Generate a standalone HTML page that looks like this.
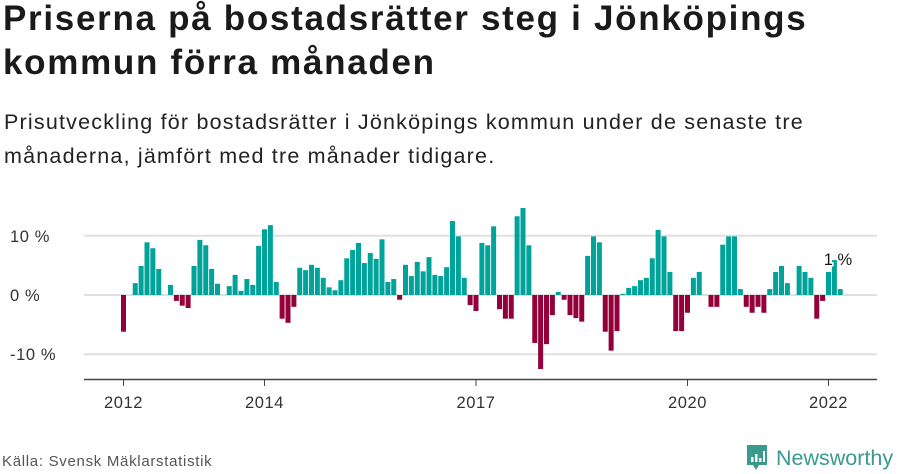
<!DOCTYPE html>
<html><head><meta charset="utf-8"><style>
body{margin:0;width:900px;height:474px;background:#fff;font-family:"Liberation Sans",sans-serif;color:#1a1a1a;overflow:hidden;position:relative}
h1{position:absolute;left:3px;top:-3px;margin:0;font-size:35px;line-height:44px;font-weight:bold;letter-spacing:1.7px;white-space:nowrap}
.sub{position:absolute;left:4px;top:105px;margin:0;font-size:21.5px;line-height:34px;color:#222;letter-spacing:1.2px;white-space:nowrap}
.src{position:absolute;left:2px;top:453px;font-size:15px;color:#555;letter-spacing:0.7px}
.logo{position:absolute;left:745px;top:443px;display:flex;align-items:center}
.logo span{font-size:21.5px;color:#3a9a8f;margin-left:7px}
</style></head><body>
<h1>Priserna på bostadsrätter steg i Jönköpings<br>kommun förra månaden</h1>
<p class="sub">Prisutveckling för bostadsrätter i Jönköpings kommun under de senaste tre<br>månaderna, jämfört med tre månader tidigare.</p>
<svg id="chart" width="900" height="474" style="position:absolute;left:0;top:0"></svg>
<div class="src">Källa: Svensk Mäklarstatistik</div>
<div class="logo">
<svg width="24" height="30" viewBox="0 0 24 30"><path d="M2 2h20v20h-8l-3 5-3-5H2z" fill="#3a9a8f"/><rect x="6" y="14" width="2.5" height="5" fill="#fff"/><rect x="10" y="11" width="2.5" height="8" fill="#fff"/><rect x="14" y="15" width="2.5" height="4" fill="#fff"/><rect x="18" y="8" width="2" height="11" fill="#fff"/></svg>
<span>Newsworthy</span></div>
<script>
const startYear = 2012;
const values = [
-6.2,0,2.0,4.9,8.9,7.9,4.4,0,1.7,-1.0,-1.8,-2.2,
4.9,9.3,8.4,4.4,1.9,0,1.5,3.4,0.7,2.7,1.7,8.3,
11.1,11.8,2.2,-4.0,-4.7,-2.0,4.6,4.2,5.1,4.6,2.9,1.3,
0.8,2.5,6.2,7.6,8.8,5.4,7.1,6.1,9.4,2.2,2.7,-0.8,
5.1,3.2,5.6,4.0,6.4,3.4,3.2,4.7,12.5,9.9,2.9,-1.7,
-2.7,8.8,8.4,11.6,-2.4,-4.0,-4.0,13.3,14.7,8.4,-8.1,-12.5,
-8.3,-3.4,0.5,-0.8,-3.4,-3.9,-4.5,6.6,9.9,8.9,-6.2,-9.4,
-6.1,0.2,1.2,1.5,2.5,2.9,6.2,11.0,9.9,3.9,-6.1,-6.1,
-3.0,2.9,3.9,0,-2.0,-2.0,8.5,9.9,9.9,1.0,-2.0,-3.0,
-2.0,-3.0,1.0,3.9,4.9,2.0,0,4.9,3.9,2.9,-4.0,-1.0,
3.9,5.9,1.0];
const yTicks = [10,0,-10];
const yTickLabels = ["10 %","0 %","-10 %"];
const xTickYears = [2012,2014,2017,2020,2022];
const lastLabel = "1 %";

const svg = document.getElementById('chart');
const NS = 'http://www.w3.org/2000/svg';
const y = v => 295 - v*5.92;
const x = i => 121 + i*5.875;
function mk(t, a){const e=document.createElementNS(NS,t);for(const k in a)e.setAttribute(k,a[k]);svg.appendChild(e);return e;}
yTicks.forEach((t,k)=>{
  const l=mk('line',{x1:84,x2:877,y1:y(t),y2:y(t),stroke:'#e0e0e0','stroke-width':2});
  
  
  const tx=mk('text',{x:10,y:y(t)+6,'font-size':16.5,fill:'#333','letter-spacing':0.6,'font-family':'Liberation Sans, sans-serif'});
  tx.textContent=yTickLabels[k];
  
  
});
const ax=mk('line',{x1:84,x2:877,y1:379.5,y2:379.5,stroke:'#444','stroke-width':1.5});


values.forEach((v,i)=>{
  if(v===0)return;
  const r=mk('rect',{x:x(i),width:5,y:Math.min(y(v),y(0)),height:Math.abs(y(v)-y(0)),fill:v>0?'#00a39a':'#93003a'});
  
  
});
xTickYears.forEach(yr=>{
  const cx=x((yr-startYear)*12)+2.5;
  const tk=mk('line',{x1:cx,x2:cx,y1:380,y2:386,stroke:'#444'});
  
  
  const tx=mk('text',{x:cx,y:408,'font-size':16.5,fill:'#333','text-anchor':'middle','letter-spacing':0.6,'font-family':'Liberation Sans, sans-serif'});
  tx.textContent=yr;
  
  
});
const li=values.length-1;
const lb=mk('text',{x:x(li)-14,y:y(values[li])-24,'font-size':16.5,fill:'#1a1a1a',stroke:'#fff','stroke-width':3,'paint-order':'stroke','font-family':'Liberation Sans, sans-serif'});
lb.textContent=lastLabel;


</script>
</body></html>
